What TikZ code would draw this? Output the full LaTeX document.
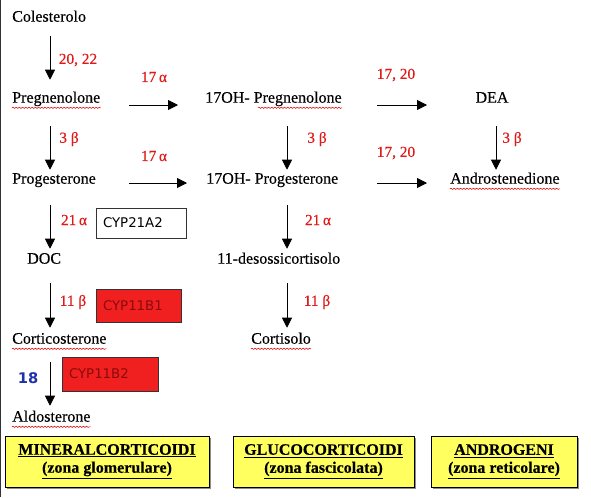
\documentclass[tikz,border=0pt]{standalone}
\usepackage{fontspec}
\setmainfont{Liberation Serif}[FakeBold=0.35]
\newfontfamily\cypfont{DejaVu Sans}
\usetikzlibrary{arrows.meta,calc,decorations.pathmorphing,shadows}
\definecolor{lblred}{RGB}{225,25,25}
\definecolor{cypred}{RGB}{240,32,32}
\definecolor{cyptxt}{RGB}{140,10,10}
\definecolor{lblblue}{RGB}{30,50,170}
\definecolor{zoneyel}{RGB}{255,255,95}
\begin{document}
\begin{tikzpicture}[x=0.75pt,y=-0.75pt,
  chem/.style={anchor=west, inner sep=0pt, text height=8pt, text depth=2.5pt, font=\fontsize{12}{14}\selectfont},
  chemc/.style={chem, anchor=center},
  lbl/.style={text=lblred, inner sep=0pt, font=\fontsize{11.5}{13}\selectfont},
  arr/.style={-{Triangle[length=7.5pt,width=7.5pt]}, line width=0.6pt},
  squig/.style={draw=red!85!black, line width=0.4pt, decorate, decoration={snake, amplitude=0.5pt, segment length=2.4pt}},
  cyp/.style={draw=black!80, line width=0.6pt, inner ysep=0pt, inner xsep=5.25pt, align=left, font=\cypfont\fontsize{10}{12}\selectfont},
  zone/.style={draw=black, line width=0.75pt, fill=zoneyel, align=center, minimum height=38.25pt,
    font=\bfseries\fontsize{12}{13.5}\selectfont,
    drop shadow={shadow xshift=1.5pt, shadow yshift=-1.5pt, fill=black!45, opacity=1}}
]
\useasboundingbox (0,0) rectangle (591,497);
\fill[white] (0,0) rectangle (591,497);
\draw[line width=0.9pt, black!80] (0.8,0) -- (0.8,497);

% column coordinates
\coordinate (xA) at (50,0);
\coordinate (xM) at (287,0);
\coordinate (xR) at (496,0);
\coordinate (hL) at (129,0);
\coordinate (hLa) at (178,0);
\coordinate (hLb) at (187,0);
\coordinate (hR) at (377,0);
\coordinate (hRe) at (427,0);

% compounds
\node[chem] (col) at (12,18) {Colesterolo};
\node[chem] (preg) at (12,99) {Pregnenolone};
\node[chem] (ohpreg) at (205,99) {17OH- Pregnenolone};
\node[chemc] (dea) at (492,99) {DEA};
\node[chem] (prog) at (12,180) {Progesterone};
\node[chem] (ohprog) at (206,180) {17OH- Progesterone};
\node[chem] (andro) at (450,180) {Androstenedione};
\node[chem] (doc) at (27,260) {DOC};
\node[chem] (deso) at (217,260) {11-desossicortisolo};
\node[chem] (cortico) at (12,340) {Corticosterone};
\node[chem] (cortisolo) at (251,340) {Cortisolo};
\node[chem] (aldo) at (12,418) {Aldosterone};

% spell-check squiggles
\draw[squig] ($(preg.south west)+(0,1.5)$) -- ($(preg.south east)+(0,1.5)$);
\draw[squig] ($(ohpreg.south east)+(-84,1.5)$) -- ($(ohpreg.south east)+(0,1.5)$);
\draw[squig] ($(andro.south west)+(0,1.5)$) -- ($(andro.south east)+(0,1.5)$);
\draw[squig] ($(cortico.south west)+(0,1.5)$) -- ($(cortico.south east)+(0,1.5)$);
\draw[squig] ($(cortisolo.south west)+(0,1.5)$) -- ($(cortisolo.south east)+(0,1.5)$);
\draw[squig] ($(aldo.south west)+(0,1.5)$) -- ($(aldo.south east)+(0,1.5)$);

% labels
\node[lbl] (l2022) at (78,60) {20, 22};
\node[lbl] (l17a1) at (154,77) {17\,α};
\node[lbl] (l3b1) at (69,139) {3 β};
\node[lbl] (l17a2) at (154,156) {17\,α};
\node[lbl] (l21a1) at (74,220) {21\,α};
\node[lbl] (l11b1) at (73,302) {11 β};
\node[text=lblblue, inner sep=0pt, font=\cypfont\bfseries\fontsize{11}{13}\selectfont] (l18) at (28,378) {18};
\node[lbl] (l3b2) at (317,139) {3 β};
\node[lbl] (l21a2) at (318,220) {21\,α};
\node[lbl] (l11b2) at (317,302) {11 β};
\node[lbl] (l1720a) at (396,75) {17, 20};
\node[lbl] (l1720b) at (396,153) {17, 20};
\node[lbl] (l3b3) at (512,139) {3 β};

% enzyme boxes
\node[cyp, fill=white, text width=57pt, minimum height=22.5pt] (c21) at (141,223) {CYP21A2};
\node[cyp, fill=cypred, text=cyptxt, text width=53.25pt, minimum height=24.75pt] (c11b1) at (138.5,305.5) {CYP11B1};
\node[cyp, fill=cypred, text=cyptxt, text width=61.5pt, minimum height=25.5pt] (c11b2) at (110,374) {CYP11B2};

% vertical arrows
\draw[arr] ($(col.south -| xA)+(0,11)$) -- ($(preg.north -| xA)+(0,-12)$);
\draw[arr] ($(preg.south -| xA)+(0,20)$) -- ($(prog.north -| xA)+(0,-3)$);
\draw[arr] ($(prog.south -| xA)+(0,18)$) -- ($(doc.north -| xA)+(0,-4)$);
\draw[arr] ($(doc.south -| xA)+(0,16)$) -- ($(cortico.north -| xA)+(0,-5)$);
\draw[arr] ($(cortico.south -| xA)+(0,15)$) -- ($(aldo.north -| xA)+(0,-5)$);
\draw[arr] ($(ohpreg.south -| xM)+(0,20)$) -- ($(ohprog.north -| xM)+(0,-3)$);
\draw[arr] ($(ohprog.south -| xM)+(0,18)$) -- ($(deso.north -| xM)+(0,-4)$);
\draw[arr] ($(deso.south -| xM)+(0,16)$) -- ($(cortisolo.north -| xM)+(0,-5)$);
\draw[arr] ($(dea.south -| xR)+(0,20)$) -- ($(andro.north -| xR)+(0,-3)$);

% horizontal arrows
\draw[arr] ($(preg -| hL)+(0,6)$) -- ($(ohpreg -| hLa)+(0,6)$);
\draw[arr] ($(prog -| hL)+(0,3)$) -- ($(ohprog -| hLb)+(0,3)$);
\draw[arr] ($(ohpreg -| hR)+(0,6)$) -- ($(dea -| hRe)+(0,6)$);
\draw[arr] ($(ohprog -| hR)+(0,3)$) -- ($(andro -| hRe)+(0,3)$);

% zone boxes
\node[zone, minimum width=153pt] (zmin) at (107,461.5) {\underline{MINERALCORTICOIDI}\\\underline{(zona glomerulare)}};
\node[zone, minimum width=135.75pt] (zglu) at (323.5,461.5) {\underline{GLUCOCORTICOIDI}\\\underline{(zona fascicolata)}};
\node[zone, minimum width=109.5pt] (zand) at (504,461.5) {\underline{ANDROGENI}\\\underline{(zona reticolare)}};
\end{tikzpicture}
\end{document}
